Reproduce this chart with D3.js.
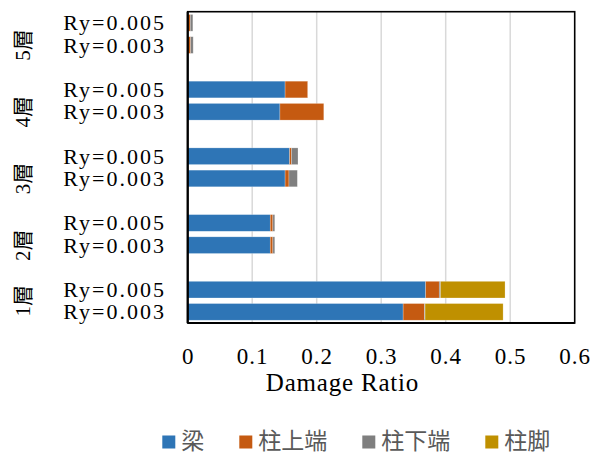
<!DOCTYPE html>
<html>
<head>
<meta charset="utf-8">
<script src="https://cdn.jsdelivr.net/npm/d3@7"></script>
<style>
  body { margin: 0; background: #fff; }
</style>
</head>
<body>
<div id="chart"></div>
<script>
// floors bottom to top, two Ry cases per floor
const floors = ['1層', '2層', '3層', '4層', '5層']
const ryCases = ['Ry=0.003', 'Ry=0.005']
const seriesNames = ['梁', '柱上端', '柱下端', '柱脚']
const seriesColors = ['#2E75B6', '#C55A11', '#7F7F7F', '#BF9000']

// values per floor (1層..5層)
const beam003 = [0.334, 0.128, 0.151, 0.143, 0]
const beam005 = [0.369, 0.128, 0.158, 0.151, 0]
const colTop003 = [0.033, 0.004, 0.006, 0.068, 0.0045]
const colTop005 = [0.021, 0.004, 0.003, 0.035, 0.004]
const colBot003 = [0.001, 0.003, 0.013, 0, 0.004]
const colBot005 = [0.002, 0.003, 0.010, 0, 0.004]
const colBase003 = [0.121, 0, 0, 0, 0]
const colBase005 = [0.100, 0, 0, 0, 0]

const xTicks = [0, 0.1, 0.2, 0.3, 0.4, 0.5, 0.6]

const w = 596
const h = 454
const margin = { top: 11.7, left: 187.7, right: 21.3, bottom: 131 }
const serif = '"Liberation Serif", "Times New Roman", "DejaVu Serif", "Noto Sans CJK JP", serif'

const svg = d3.select('#chart')
  .append('svg')
  .attr('width', w)
  .attr('height', h)

// build rows, top to bottom, with a blank row between floors
const rows = []
for (let f = floors.length - 1; f >= 0; f--) {
  for (let r = ryCases.length - 1; r >= 0; r--) {
    const is3 = r === 0
    rows.push({
      key: floors[f] + '|' + ryCases[r],
      floor: f,
      ry: ryCases[r],
      '梁': is3 ? beam003[f] : beam005[f],
      '柱上端': is3 ? colTop003[f] : colTop005[f],
      '柱下端': is3 ? colBot003[f] : colBot005[f],
      '柱脚': is3 ? colBase003[f] : colBase005[f]
    })
  }
  if (f > 0) rows.push({ key: 'gap' + f, floor: f, spacer: true, '梁': 0, '柱上端': 0, '柱下端': 0, '柱脚': 0 })
}

const xScale = d3.scaleLinear()
  .domain([0, 0.6])
  .range([margin.left, w - margin.right])

const yScale = d3.scaleBand()
  .domain(rows.map(d => d.key))
  .range([margin.top, h - margin.bottom])
  .paddingInner(0.25)
  .paddingOuter(0.125)

const color = d3.scaleOrdinal().domain(seriesNames).range(seriesColors)

// grid
svg.append('g')
  .selectAll('line')
  .data(xTicks.slice(1, -1))
  .enter()
  .append('line')
  .attr('x1', d => xScale(d))
  .attr('x2', d => xScale(d))
  .attr('y1', margin.top)
  .attr('y2', h - margin.bottom)
  .attr('stroke', '#d9d9d9')
  .attr('stroke-width', 1.5)

// bars
const stacked = d3.stack().keys(seriesNames)(rows.filter(d => !d.spacer))

svg.append('g')
  .selectAll('g')
  .data(stacked)
  .enter()
  .append('g')
  .attr('fill', d => color(d.key))
  .selectAll('rect')
  .data(d => d.filter(s => s[1] - s[0] > 0))
  .enter()
  .append('rect')
  .attr('x', d => xScale(d[0]))
  .attr('y', d => yScale(d.data.key))
  .attr('width', d => xScale(d[1]) - xScale(d[0]))
  .attr('height', yScale.bandwidth())
  .attr('stroke', '#ffffff')
  .attr('stroke-opacity', 0.4)
  .attr('stroke-width', 0.6)

// frame
svg.append('rect')
  .attr('x', margin.left)
  .attr('y', margin.top)
  .attr('width', w - margin.left - margin.right)
  .attr('height', h - margin.top - margin.bottom)
  .attr('fill', 'none')
  .attr('stroke', '#000')
  .attr('stroke-width', 1.6)

svg.append('line')
  .attr('x1', margin.left).attr('x2', margin.left)
  .attr('y1', margin.top).attr('y2', h - margin.bottom)
  .attr('stroke', '#000').attr('stroke-width', 2.2)
svg.append('line')
  .attr('x1', margin.left).attr('x2', w - margin.right)
  .attr('y1', h - margin.bottom).attr('y2', h - margin.bottom)
  .attr('stroke', '#000').attr('stroke-width', 2.2)

// x axis
const xAxis = d3.axisBottom(xScale)
  .tickValues(xTicks)
  .tickFormat(d => d === 0 ? '0' : d3.format('.1f')(d))
  .tickSize(0)

const xg = svg.append('g')
  .attr('transform', 'translate(0,' + (h - margin.bottom) + ')')
  .call(xAxis)
xg.select('.domain').remove()
xg.selectAll('text')
  .attr('dy', null)
  .attr('y', 41)
  .attr('fill', '#000')
  .attr('font-family', serif)
  .attr('font-size', 23)
  .attr('letter-spacing', 1)

svg.append('text')
  .attr('x', 342.5)
  .attr('y', 391)
  .attr('text-anchor', 'middle')
  .attr('font-family', serif)
  .attr('font-size', 25)
  .attr('letter-spacing', 0.8)
  .text('Damage Ratio')

// y labels (Ry cases)
svg.append('g')
  .selectAll('text')
  .data(rows.filter(d => !d.spacer))
  .enter()
  .append('text')
  .attr('x', 166)
  .attr('y', d => yScale(d.key) + yScale.bandwidth() / 2 + 7.5)
  .attr('text-anchor', 'end')
  .attr('font-family', serif)
  .attr('font-size', 22)
  .attr('letter-spacing', 2)
  .text(d => d.ry)

// floor labels, centered on each floor's rows (incl. blank row below it)
const floorCenters = floors.map((f, i) => {
  const ys = rows.filter(d => d.floor === i).map(d => yScale(d.key) + yScale.bandwidth() / 2)
  return { name: f, y: d3.mean(ys) }
})

svg.append('g')
  .selectAll('text')
  .data(floorCenters)
  .enter()
  .append('text')
  .attr('transform', d => 'translate(30,' + d.y + ') rotate(-90)')
  .attr('text-anchor', 'middle')
  .attr('font-family', serif)
  .attr('font-size', 21)
  .text(d => d.name)

// legend
const legend = svg.append('g').attr('transform', 'translate(162.3,442)')
let lx = 0
seriesNames.forEach((name, i) => {
  legend.append('rect')
    .attr('x', lx)
    .attr('y', -6.5)
    .attr('width', 13)
    .attr('height', 13)
    .attr('fill', seriesColors[i])
  const t = legend.append('text')
    .attr('x', lx + 19)
    .attr('y', 6.5)
    .attr('fill', '#595959')
    .attr('font-family', '"Noto Sans CJK JP", sans-serif')
    .attr('font-size', 23)
    .text(name)
  lx += 19 + t.node().getComputedTextLength() + 35
})
</script>
</body>
</html>
